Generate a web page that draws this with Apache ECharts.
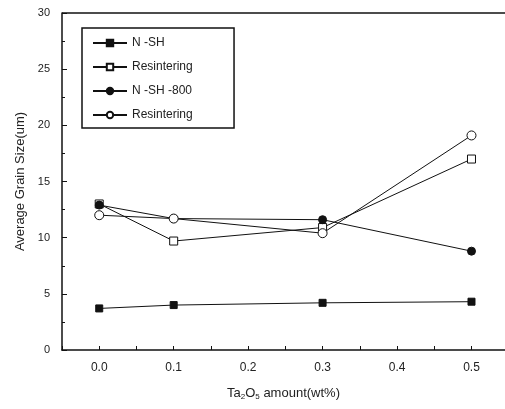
<!DOCTYPE html>
<html>
<head>
<meta charset="utf-8">
<script src="https://cdn.jsdelivr.net/npm/echarts@6/dist/echarts.min.js"></script>
<style>
  html, body { margin: 0; padding: 0; background: #fff; }
  #chart { width: 505px; height: 409px; }
</style>
</head>
<body>
<div id="chart"></div>
<script>
// Ta2O5 amount (wt%)
const amounts = [0.0, 0.1, 0.3, 0.5];
const nsh = [3.7, 4.0, 4.2, 4.3];
const nshResinter = [13.0, 9.7, 10.9, 17.0];
const nsh800 = [12.9, 11.7, 11.6, 8.8];
const nsh800Resinter = [12.0, 11.7, 10.4, 19.1];
const yTicks = [0, 5, 10, 15, 20, 25, 30];

const pairs = (ys) => amounts.map((x, i) => [x, ys[i]]);

const chart = echarts.init(document.getElementById('chart'));
const font = 'Liberation Sans, Arial, sans-serif';

const lineBase = {
  type: 'line',
  lineStyle: { color: '#111', width: 1 },
  itemStyle: { color: '#111', borderColor: '#111', borderWidth: 1 },
  animation: false
};

chart.setOption({
  backgroundColor: '#fff',
  textStyle: { fontFamily: font },
  grid: { left: 62, top: 13, width: 443, height: 337 },
  legend: {
    left: 82, top: 28,
    orient: 'vertical',
    padding: [9, 38, 7, 10],
    itemGap: 12,
    itemWidth: 34, itemHeight: 8,
    borderColor: '#111', borderWidth: 1.5,
    textStyle: { fontSize: 12, color: '#222', fontFamily: font },
    data: [
      { name: 'N -SH' },
      { name: 'Resintering' },
      { name: 'N -SH -800' },
      { name: 'Resintering ' }
    ]
  },
  xAxis: {
    type: 'value',
    min: -0.05, max: 0.545, interval: 0.05,
    name: 'Ta{s|2}O{s|5} amount(wt%)',
    nameLocation: 'middle', nameGap: 35,
    nameTextStyle: { fontSize: 13, color: '#222', rich: { s: { fontSize: 8, verticalAlign: 'bottom', padding: [8, 0, 0, 0] } } },
    axisLine: { onZero: false, lineStyle: { color: '#111', width: 1.5 } },
    axisTick: { inside: true, length: 4, lineStyle: { color: '#111' } },
    axisLabel: {
      color: '#222', fontSize: 12, margin: 12, showMaxLabel: false,
      formatter: (v) => {
        const k = Math.round(v * 100);
        return (k >= 0 && k % 10 === 0) ? (k / 100).toFixed(1) : '';
      }
    },
    splitLine: { show: false }
  },
  yAxis: {
    type: 'value',
    min: yTicks[0], max: yTicks[yTicks.length - 1], interval: 5,
    name: 'Average Grain Size(um)',
    nameLocation: 'middle', nameGap: 34,
    nameTextStyle: { fontSize: 13, color: '#222' },
    axisLine: { onZero: false, lineStyle: { color: '#111', width: 1.5 } },
    axisTick: { inside: true, length: 5, lineStyle: { color: '#111' } },
    minorTick: { show: true, splitNumber: 2, length: 3, lineStyle: { color: '#111' } },
    axisLabel: { color: '#222', fontSize: 11, margin: 12 },
    splitLine: { show: false }
  },
  series: [
    Object.assign({}, lineBase, { name: 'N -SH', data: pairs(nsh), symbol: 'rect', symbolSize: 7, z: 4 }),
    Object.assign({}, lineBase, { name: 'Resintering', data: pairs(nshResinter), symbol: 'rect', symbolSize: 8,
      itemStyle: { color: '#fff', borderColor: '#111', borderWidth: 1 }, z: 2 }),
    Object.assign({}, lineBase, { name: 'N -SH -800', data: pairs(nsh800), symbol: 'circle', symbolSize: 8, z: 3 }),
    Object.assign({}, lineBase, { name: 'Resintering ', data: pairs(nsh800Resinter), symbol: 'circle', symbolSize: 9,
      itemStyle: { color: '#fff', borderColor: '#111', borderWidth: 1 }, z: 5 })
  ],
  graphic: [
    { type: 'line', shape: { x1: 62, y1: 13, x2: 505, y2: 13 }, style: { stroke: '#111', lineWidth: 1.5 } }
  ]
});
</script>
</body>
</html>
